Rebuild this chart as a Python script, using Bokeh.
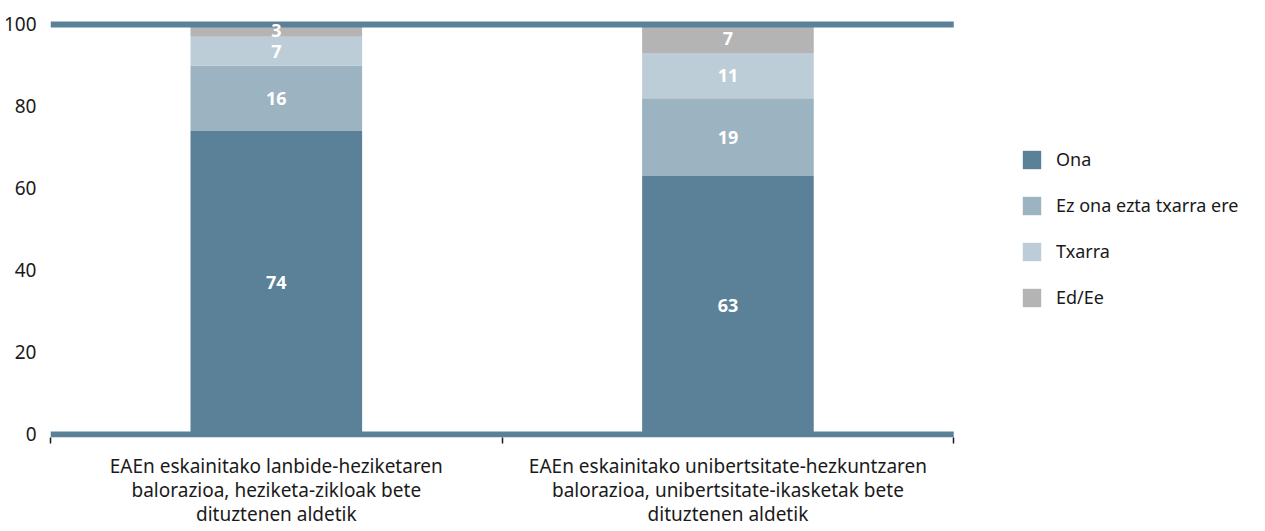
from bokeh.plotting import figure
from bokeh.models import ColumnDataSource, Range1d, FixedTicker, Legend, LegendItem
from bokeh.core.properties import value
from bokeh.embed import file_html
from bokeh.resources import INLINE

categories = [
    "EAEn eskainitako lanbide-heziketaren\nbalorazioa, heziketa-zikloak bete\ndituztenen aldetik",
    "EAEn eskainitako unibertsitate-hezkuntzaren\nbalorazioa, unibertsitate-ikasketak bete\ndituztenen aldetik",
]
series_names = ["Ona", "Ez ona ezta txarra ere", "Txarra", "Ed/Ee"]
ona = [74, 63]
ez_ona = [16, 19]
txarra = [7, 11]
ed_ee = [3, 7]
colors = ["#5b8199", "#9cb3c1", "#bccdd7", "#b4b4b4"]
y_ticks = [0, 20, 40, 60, 80, 100]

FONT = "Noto Sans"
LINE = "#5b8199"
n = len(categories)
xs = [i + 0.5 for i in range(n)]
keys = ["ona", "ez_ona", "txarra", "ed_ee"]
src = ColumnDataSource(dict(x=xs, ona=ona, ez_ona=ez_ona, txarra=txarra, ed_ee=ed_ee))

W, H = 1249, 529
BL, BR, BT, BB = 49, 0, 12, 88
frame_w = W - BL - BR
x_end = frame_w / 452.0  # px per category

p = figure(width=W, height=H, output_backend="svg", toolbar_location=None,
           x_range=Range1d(0, x_end), y_range=Range1d(-0.75, 102.9),
           min_border_left=BL, min_border_right=BR, min_border_top=BT, min_border_bottom=BB)
p.outline_line_color = None
p.xgrid.visible = False
p.ygrid.visible = False

rs = p.vbar_stack(keys, x="x", width=0.38, source=src, color=colors, line_color=None)

# baseline and 100% line
p.segment(x0=[0, 0], y0=[0, 100], x1=[n, n], y1=[0, 100], line_color=LINE, line_width=6)

# segment labels
lx, ly, lt = [], [], []
for i, x in enumerate(xs):
    base = 0
    for arr in (ona, ez_ona, txarra, ed_ee):
        v = arr[i]
        lx.append(x); ly.append(base + v / 2); lt.append(str(v))
        base += v
p.text(x=lx, y=ly, text=lt, text_color="white", text_font=value(FONT), text_font_style="bold",
       text_font_size="18px", text_align="center", text_baseline="middle")

# y axis
p.yaxis.ticker = FixedTicker(ticks=y_ticks)
p.yaxis.axis_line_color = None
p.yaxis.major_tick_line_color = None
p.yaxis.minor_tick_line_color = None
p.yaxis.major_label_standoff = 8
p.yaxis.major_label_text_font = FONT
p.yaxis.major_label_text_font_size = "19px"
p.yaxis.major_label_text_color = "#1a1a1a"

# x axis
p.xaxis.ticker = FixedTicker(ticks=xs, minor_ticks=list(range(n + 1)))
p.xaxis.major_label_overrides = {x: c for x, c in zip(xs, categories)}
p.xaxis.axis_line_color = None
p.xaxis.major_tick_line_color = None
p.xaxis.minor_tick_line_color = "#1a1a1a"
p.xaxis.minor_tick_line_width = 1.5
p.xaxis.minor_tick_in = 0
p.xaxis.minor_tick_out = 6
p.xaxis.major_label_standoff = 9
p.xaxis.major_label_text_font = FONT
p.xaxis.major_label_text_font_size = "19px"
p.xaxis.major_label_text_color = "#1a1a1a"
p.xaxis.major_label_text_line_height = 0.93

legend = Legend(items=[LegendItem(label=s, renderers=[r]) for s, r in zip(series_names, rs)],
                location=(970, 128), glyph_width=23, glyph_height=23, spacing=22,
                label_standoff=13, padding=0, margin=0, border_line_color=None,
                background_fill_alpha=0, label_text_font=FONT, label_text_font_size="18px",
                label_text_color="#1a1a1a", label_height=23)
p.add_layout(legend)

open("out.html", "w").write(file_html(p, INLINE))
